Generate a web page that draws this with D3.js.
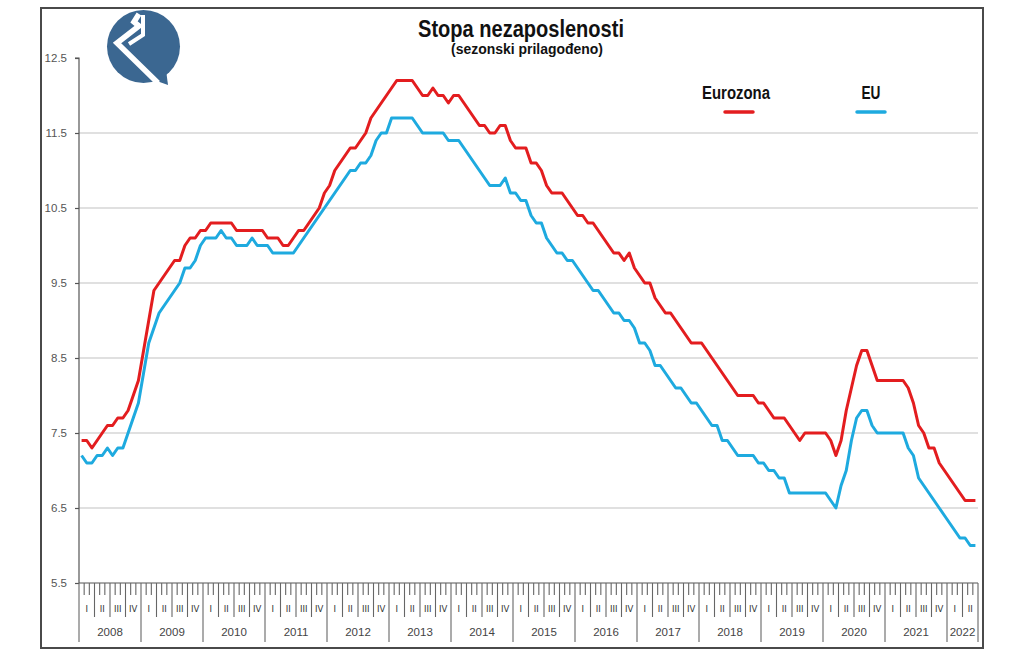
<!DOCTYPE html>
<html>
<head>
<meta charset="utf-8">
<script src="https://cdn.jsdelivr.net/npm/d3@7"></script>
<style>
  html, body { margin: 0; padding: 0; background: #ffffff; }
  svg { display: block; }
</style>
</head>
<body>
<svg id="chart" width="1024" height="672"></svg>
<script>
// ---------------- DATA ----------------
const years = ["2008","2009","2010","2011","2012","2013","2014","2015","2016","2017","2018","2019","2020","2021","2022"];
const monthsPerYear = [12,12,12,12,12,12,12,12,12,12,12,12,12,12,6];
const quarterLabels = ["I","II","III","IV"];
const yTickValues = [5.5, 6.5, 7.5, 8.5, 9.5, 10.5, 11.5, 12.5];
const yTickLabels = ["5.5","6.5","7.5","8.5","9.5","10.5","11.5","12.5"];
const seriesNames = ["Eurozona", "EU"];
const titleText = "Stopa nezaposlenosti";
const subtitleText = "(sezonski prilagođeno)";

// Monthly, seasonally adjusted, Jan 2008 – Jun 2022
const eurozona = [
  7.4, 7.4, 7.3, 7.4, 7.5, 7.6, 7.6, 7.7, 7.7, 7.8, 8.0, 8.2,      // 2008
  8.6, 9.0, 9.4, 9.5, 9.6, 9.7, 9.8, 9.8, 10.0, 10.1, 10.1, 10.2,  // 2009
  10.2, 10.3, 10.3, 10.3, 10.3, 10.3, 10.2, 10.2, 10.2, 10.2, 10.2, 10.2, // 2010
  10.1, 10.1, 10.1, 10.0, 10.0, 10.1, 10.2, 10.2, 10.3, 10.4, 10.5, 10.7, // 2011
  10.8, 11.0, 11.1, 11.2, 11.3, 11.3, 11.4, 11.5, 11.7, 11.8, 11.9, 12.0, // 2012
  12.1, 12.2, 12.2, 12.2, 12.2, 12.1, 12.0, 12.0, 12.1, 12.0, 12.0, 11.9, // 2013
  12.0, 12.0, 11.9, 11.8, 11.7, 11.6, 11.6, 11.5, 11.5, 11.6, 11.6, 11.4, // 2014
  11.3, 11.3, 11.3, 11.1, 11.1, 11.0, 10.8, 10.7, 10.7, 10.7, 10.6, 10.5, // 2015
  10.4, 10.4, 10.3, 10.3, 10.2, 10.1, 10.0, 9.9, 9.9, 9.8, 9.9, 9.7,      // 2016
  9.6, 9.5, 9.5, 9.3, 9.2, 9.1, 9.1, 9.0, 8.9, 8.8, 8.7, 8.7,             // 2017
  8.7, 8.6, 8.5, 8.4, 8.3, 8.2, 8.1, 8.0, 8.0, 8.0, 8.0, 7.9,             // 2018
  7.9, 7.8, 7.7, 7.7, 7.7, 7.6, 7.5, 7.4, 7.5, 7.5, 7.5, 7.5,             // 2019
  7.5, 7.4, 7.2, 7.4, 7.8, 8.1, 8.4, 8.6, 8.6, 8.4, 8.2, 8.2,             // 2020
  8.2, 8.2, 8.2, 8.2, 8.1, 7.9, 7.6, 7.5, 7.3, 7.3, 7.1, 7.0,             // 2021
  6.9, 6.8, 6.7, 6.6, 6.6, 6.6                                            // 2022
];
const eu = [
  7.2, 7.1, 7.1, 7.2, 7.2, 7.3, 7.2, 7.3, 7.3, 7.5, 7.7, 7.9,             // 2008
  8.3, 8.7, 8.9, 9.1, 9.2, 9.3, 9.4, 9.5, 9.7, 9.7, 9.8, 10.0,            // 2009
  10.1, 10.1, 10.1, 10.2, 10.1, 10.1, 10.0, 10.0, 10.0, 10.1, 10.0, 10.0, // 2010
  10.0, 9.9, 9.9, 9.9, 9.9, 9.9, 10.0, 10.1, 10.2, 10.3, 10.4, 10.5,      // 2011
  10.6, 10.7, 10.8, 10.9, 11.0, 11.0, 11.1, 11.1, 11.2, 11.4, 11.5, 11.5, // 2012
  11.7, 11.7, 11.7, 11.7, 11.7, 11.6, 11.5, 11.5, 11.5, 11.5, 11.5, 11.4, // 2013
  11.4, 11.4, 11.3, 11.2, 11.1, 11.0, 10.9, 10.8, 10.8, 10.8, 10.9, 10.7, // 2014
  10.7, 10.6, 10.6, 10.4, 10.3, 10.3, 10.1, 10.0, 9.9, 9.9, 9.8, 9.8,     // 2015
  9.7, 9.6, 9.5, 9.4, 9.4, 9.3, 9.2, 9.1, 9.1, 9.0, 9.0, 8.9,             // 2016
  8.7, 8.7, 8.6, 8.4, 8.4, 8.3, 8.2, 8.1, 8.1, 8.0, 7.9, 7.9,             // 2017
  7.8, 7.7, 7.6, 7.6, 7.4, 7.4, 7.3, 7.2, 7.2, 7.2, 7.2, 7.1,             // 2018
  7.1, 7.0, 7.0, 6.9, 6.9, 6.7, 6.7, 6.7, 6.7, 6.7, 6.7, 6.7,             // 2019
  6.7, 6.6, 6.5, 6.8, 7.0, 7.4, 7.7, 7.8, 7.8, 7.6, 7.5, 7.5,             // 2020
  7.5, 7.5, 7.5, 7.5, 7.3, 7.2, 6.9, 6.8, 6.7, 6.6, 6.5, 6.4,             // 2021
  6.3, 6.2, 6.1, 6.1, 6.0, 6.0                                            // 2022
];

// ---------------- LAYOUT ----------------
const W = 1024, H = 672;
const plot = { left: 79, right: 978, top: 58, bottom: 583 };
const colors = { eurozona: "#e31d1f", eu: "#1eaadf", grid: "#d6d6d6", axis: "#555555", text: "#444444", logo: "#3b6791" };
const condensedFont = "'Liberation Sans', Arial, sans-serif";

const svg = d3.select("#chart");
svg.append("rect").attr("x", 0).attr("y", 0).attr("width", W).attr("height", H).attr("fill", "#ffffff");

// outer frame
svg.append("rect")
  .attr("x", 41).attr("y", 8).attr("width", 942).attr("height", 640)
  .attr("fill", "#ffffff").attr("stroke", "#4a4a4a").attr("stroke-width", 2);

const totalMonths = d3.sum(monthsPerYear);
const x = d3.scaleLinear().domain([0, totalMonths]).range([plot.left, plot.right]);
const y = d3.scaleLinear().domain([5.5, 12.5]).range([plot.bottom, plot.top]);

// gridlines
svg.append("g").selectAll("line")
  .data(yTickValues.filter(v => v > 5.5 && v < 12.5))
  .join("line")
  .attr("x1", plot.left).attr("x2", plot.right)
  .attr("y1", d => y(d)).attr("y2", d => y(d))
  .attr("stroke", colors.grid).attr("stroke-width", 1.5);

// y axis
const yAxis = d3.axisLeft(y).tickValues(yTickValues)
  .tickFormat((d, i) => yTickLabels[i]).tickSize(4).tickPadding(8);
const gy = svg.append("g").attr("transform", `translate(${plot.left},0)`).call(yAxis);
gy.select(".domain").attr("stroke", colors.axis).attr("stroke-width", 1.2).attr("d", `M-4,${plot.top}H0V${plot.bottom}`);
gy.selectAll(".tick line").attr("stroke", colors.axis).attr("stroke-width", 1.2);
gy.selectAll(".tick text").attr("fill", "#555").style("font-family", "'Liberation Sans', Arial, sans-serif").style("font-size", "11.5px");

// x axis: month ticks, quarter and year separators
let acc = 0;
const yearStarts = [];
years.forEach((yr, k) => { yearStarts.push(acc); acc += monthsPerYear[k]; });
const gx = svg.append("g");
gx.append("line").attr("x1", x(0)).attr("x2", x(totalMonths))
  .attr("y1", plot.bottom).attr("y2", plot.bottom)
  .attr("stroke", colors.axis).attr("stroke-width", 1.2);

const boundaries = d3.range(0, totalMonths + 1).map(i => {
  const isYear = yearStarts.includes(i) || i === totalMonths;
  const local = i - yearStarts.filter(s => s <= i).slice(-1)[0];
  const isQuarter = !isYear && local % 3 === 0;
  return { i, len: isYear ? 59 : (isQuarter ? 34 : 12) };
});
gx.selectAll("line.tick").data(boundaries).join("line")
  .attr("class", "tick")
  .attr("x1", d => x(d.i)).attr("x2", d => x(d.i))
  .attr("y1", plot.bottom).attr("y2", d => plot.bottom + d.len)
  .attr("stroke", "#666").attr("stroke-width", 1.1);

// quarter labels
const quarterData = [];
years.forEach((yr, k) => {
  const nq = monthsPerYear[k] / 3;
  for (let q = 0; q < nq; q++) quarterData.push({ label: quarterLabels[q], c: yearStarts[k] + q * 3 + 1.5 });
});
gx.selectAll("text.q").data(quarterData).join("text")
  .attr("class", "q")
  .attr("x", d => x(d.c)).attr("y", 612)
  .attr("text-anchor", "middle")
  .style("font-family", "'DejaVu Sans', sans-serif").style("font-size", "8.5px")
  .attr("fill", "#333").text(d => d.label);

// year labels
gx.selectAll("text.yr").data(years).join("text")
  .attr("class", "yr")
  .attr("x", (d, k) => x(yearStarts[k] + monthsPerYear[k] / 2)).attr("y", 636)
  .attr("text-anchor", "middle")
  .style("font-family", "'Liberation Sans', Arial, sans-serif").style("font-size", "11.5px")
  .attr("fill", "#444").text(d => d);

// lines
const line = d3.line().x((d, i) => x(i + 0.5)).y(d => y(d)).curve(d3.curveLinear);
svg.append("path").datum(eu).attr("d", line)
  .attr("fill", "none").attr("stroke", colors.eu).attr("stroke-width", 3).attr("stroke-linejoin", "round");
svg.append("path").datum(eurozona).attr("d", line)
  .attr("fill", "none").attr("stroke", colors.eurozona).attr("stroke-width", 3).attr("stroke-linejoin", "round");

// condensed bold text helper: shrink horizontally to target width
function condensed(txt, cx, cy, size, targetW) {
  const t = svg.append("text").attr("x", 0).attr("y", 0)
    .attr("text-anchor", "middle")
    .style("font-family", condensedFont).style("font-weight", "bold").style("font-size", size + "px")
    .attr("fill", "#111").text(txt);
  const len = t.node().getComputedTextLength();
  const s = targetW / len;
  t.attr("transform", `translate(${cx},${cy}) scale(${s},1)`);
  return t;
}
condensed(titleText, 521, 37, 23, 206);
condensed(subtitleText, 527, 54, 15.5, 152);

// legend
const legendData = [
  { name: seriesNames[0], color: colors.eurozona, cx: 736, w: 68, lx: 725 },
  { name: seriesNames[1], color: colors.eu, cx: 871, w: 19, lx: 857 }
];
legendData.forEach(d => {
  condensed(d.name, d.cx, 99, 19, d.w);
  svg.append("line").attr("x1", d.lx).attr("x2", d.lx + 28)
    .attr("y1", 112).attr("y2", 112)
    .attr("stroke", d.color).attr("stroke-width", 3.5).attr("stroke-linecap", "round");
});

// logo
const logo = svg.append("g");
logo.append("circle").attr("cx", 143.5).attr("cy", 46.5).attr("r", 36.5).attr("fill", colors.logo);
logo.append("path").attr("d", "M154,80 L168,85 L166,70 Z").attr("fill", colors.logo);
logo.append("path").attr("d", "M139,14 L134,22 L139,26 L117,43 L158,83")
  .attr("fill", "none").attr("stroke", "#fff").attr("stroke-width", 5.5).attr("stroke-linejoin", "miter");
logo.append("path").attr("d", "M143,15 L143,35 L129,44")
  .attr("fill", "none").attr("stroke", "#fff").attr("stroke-width", 4).attr("stroke-linejoin", "miter");
</script>
</body>
</html>
